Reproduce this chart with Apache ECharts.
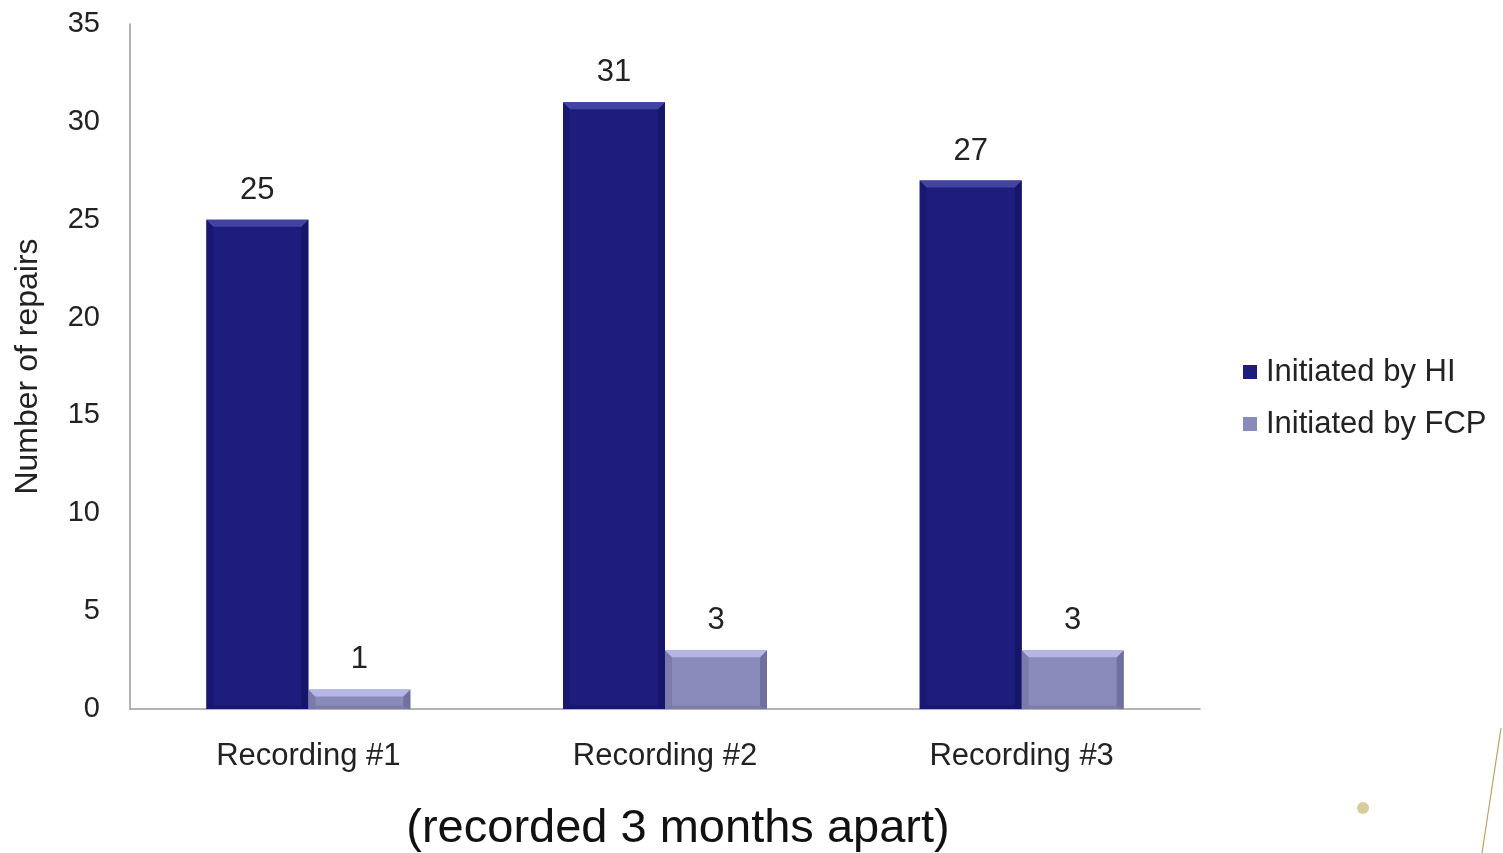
<!DOCTYPE html>
<html>
<head>
<meta charset="utf-8">
<script src="https://cdn.jsdelivr.net/npm/echarts@6/dist/echarts.min.js"></script>
<style>
  html, body { margin: 0; padding: 0; background: #fff; }
  #chart { width: 1503px; height: 853px; }
</style>
</head>
<body>
<div id="chart"></div>
<script>
// Repairs per recording session, by who initiated them
const categories = ['Recording #1', 'Recording #2', 'Recording #3'];
const initiatedByHI = [25, 31, 27];
const initiatedByFCP = [1, 3, 3];
const seriesNames = ['Initiated by HI', 'Initiated by FCP'];

const FONT = '"Liberation Sans", Arial, sans-serif';
const BAR_W = 102;

// body / top highlight / side shade colours for each series
const palette = [
  { body: '#1d1d7e', top: '#4343a2', side: '#15156a', bottom: '#16166c' },
  { body: '#8a8abb', top: '#b6b6e4', side: '#7070a0', bottom: '#7a7aa8' }
];

const chart = echarts.init(document.getElementById('chart'), null, { renderer: 'canvas' });

const labelStyle = {
  show: true,
  position: 'top',
  distance: 14,
  color: '#222',
  fontFamily: FONT,
  fontSize: 31
};

// bevel overlay drawn on top of each bar, positioned through the axes
function bevelSeries(values, seriesIdx, offset) {
  const c = palette[seriesIdx];
  return {
    type: 'custom',
    silent: true,
    z: 5,
    data: values.map((v, i) => [i, v]),
    renderItem: function (params, api) {
      const top = api.coord([api.value(0), api.value(1)]);
      const base = api.coord([api.value(0), 0]);
      const x0 = top[0] + offset - BAR_W / 2;
      const x1 = x0 + BAR_W;
      const y0 = top[1];
      const y1 = base[1];
      const b = Math.min(7, (y1 - y0) / 2);
      return {
        type: 'group',
        children: [
          {
            type: 'polygon',
            shape: { points: [[x0, y0], [x0 + b, y0 + b], [x0 + b, y1], [x0, y1]] },
            style: { fill: c.side, opacity: 0.6 }
          },
          {
            type: 'polygon',
            shape: { points: [[x1, y0], [x1, y1], [x1 - b, y1], [x1 - b, y0 + b]] },
            style: { fill: c.side }
          },
          {
            type: 'polygon',
            shape: { points: [[x0, y1], [x1, y1], [x1 - b, y1 - b / 2], [x0 + b, y1 - b / 2]] },
            style: { fill: c.bottom, opacity: 0.8 }
          },
          {
            type: 'polygon',
            shape: { points: [[x0, y0], [x1, y0], [x1 - b, y0 + b], [x0 + b, y0 + b]] },
            style: { fill: c.top }
          }
        ]
      };
    }
  };
}

chart.setOption({
  animation: false,
  backgroundColor: '#ffffff',
  grid: { left: 130, right: 303, top: 24, bottom: 144 },
  legend: {
    orient: 'vertical',
    left: 1243,
    top: 356,
    padding: 0,
    icon: 'rect',
    itemWidth: 14,
    itemHeight: 14,
    itemGap: 20,
    itemStyle: { borderWidth: 0 },
    textStyle: { fontFamily: FONT, fontSize: 31, lineHeight: 32, color: '#222', padding: [0, 0, 0, 4] },
    data: seriesNames
  },
  xAxis: {
    type: 'category',
    data: categories,
    axisLine: { lineStyle: { color: '#9a9a9a', width: 1.5 } },
    axisTick: { show: false },
    axisLabel: { fontFamily: FONT, fontSize: 31, color: '#222', margin: 32 }
  },
  yAxis: {
    type: 'value',
    min: 0,
    max: 35,
    interval: 5,
    name: 'Number of repairs',
    nameLocation: 'middle',
    nameGap: 86,
    nameRotate: 90,
    nameTextStyle: { fontFamily: FONT, fontSize: 32, color: '#222' },
    axisLine: { show: true, lineStyle: { color: '#9a9a9a', width: 1.5 } },
    axisTick: { show: false },
    splitLine: { show: false },
    axisLabel: { fontFamily: FONT, fontSize: 29, color: '#222', margin: 30 }
  },
  series: [
    {
      name: seriesNames[0],
      type: 'bar',
      data: initiatedByHI,
      barWidth: BAR_W,
      barGap: '0%',
      itemStyle: { color: palette[0].body },
      label: labelStyle
    },
    {
      name: seriesNames[1],
      type: 'bar',
      data: initiatedByFCP,
      barWidth: BAR_W,
      barGap: '0%',
      itemStyle: { color: palette[1].body },
      label: labelStyle
    },
    bevelSeries(initiatedByHI, 0, -BAR_W / 2),
    bevelSeries(initiatedByFCP, 1, BAR_W / 2)
  ],
  graphic: [
    {
      type: 'text',
      x: 678,
      y: 829,
      style: {
        text: '(recorded 3 months apart)',
        font: '47px "Liberation Sans", Arial, sans-serif',
        fill: '#111',
        align: 'center',
        verticalAlign: 'middle'
      }
    },
    {
      type: 'circle',
      shape: { cx: 1363, cy: 808, r: 6 },
      style: { fill: '#d8cc98' }
    },
    {
      type: 'line',
      shape: { x1: 1501, y1: 728, x2: 1482, y2: 853 },
      style: { stroke: '#b8a468', lineWidth: 1.2 }
    }
  ]
});
</script>
</body>
</html>
